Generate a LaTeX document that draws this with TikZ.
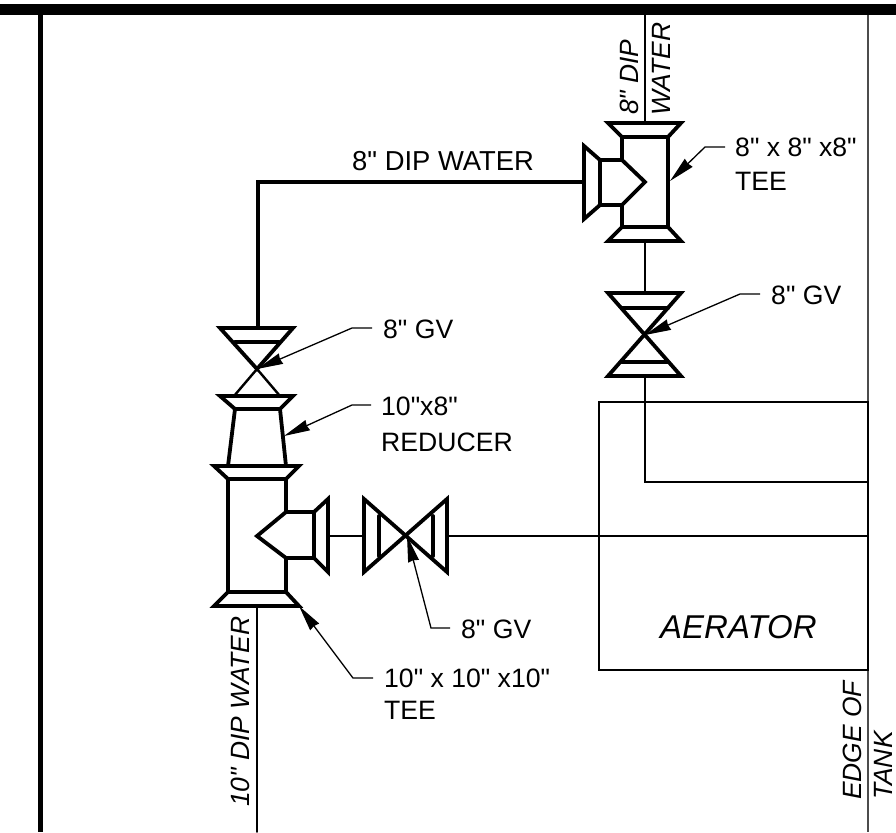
\documentclass[tikz,border=0pt]{standalone}
\usepackage{fontspec}
\newfontfamily\labelfont{Liberation Sans}
\usepackage{tkz-euclide}
\usetikzlibrary{arrows.meta}
\tikzset{
fitting/.style={line width=3.8pt, line join=miter, line cap=round},
thinPipe/.style={line width=1.6pt},
thickPipe/.style={line width=3.8pt},
leaderMe/.style={line width=1.3pt, {Stealth[length=26pt,width=11pt,inset=1pt]}-},
callout/.style={anchor=base west, inner sep=0pt, font=\labelfont\fontsize{26.6}{30}\selectfont},
sideText/.style={rotate=90, anchor=base west, inner sep=0pt, font=\labelfont\fontsize{26.4}{30}\selectfont\itshape}
}

\begin{document}
\begin{tikzpicture}[x=1pt,y=-1pt]
    \useasboundingbox (0,0) rectangle (896,832);
    % pipe ends and bends
    \tkzDefPoint(645,15){t_1}
    \tkzDefPoint(645,123){t_2}
    \tkzDefPoint(645,241){t_3}
    \tkzDefPoint(645,293){t_4}
    \tkzDefPoint(645,376){t_5}
    \tkzDefPoint(645,482){t_6}
    \tkzDefPoint(868,482){t_7}
    \tkzDefPoint(584,182){u_1}
    \tkzDefPoint(258,182){u_2}
    \tkzDefPoint(258,328){u_3}
    \tkzDefPoint(328,536){w_1}
    \tkzDefPoint(364,536){w_2}
    \tkzDefPoint(447,536){w_3}
    \tkzDefPoint(868,536){w_4}
    \tkzDefPoint(257,606){w_5}
    \tkzDefPoint(257,832){w_6}
    % border
    \fill (0,4) rectangle (896,15);
    \fill (38,15) rectangle (43,832);
    \draw[line width=1.8pt,black!70] (868,15) -- (868,832);
    % aerator
    \draw[thinPipe] (599,402) rectangle (868,670);
    % pipes
    \tkzDrawSegments[thinPipe](t_1,t_2 t_3,t_4 w_1,w_2 w_3,w_4 w_5,w_6)
    \draw[thinPipe] (t_5) -- (t_6) -- (t_7);
    \draw[thickPipe] (u_1) -- (u_2) -- (u_3);
    % upper tee
    \draw[fitting] (608,123) -- (681,123) -- (668,137) -- (622,137) -- cycle;
    \draw[fitting] (622,227) -- (668,227) -- (681,241) -- (608,241) -- cycle;
    \draw[fitting] (668,137) -- (668,227);
    \draw[fitting] (622,137) -- (622,160) -- (645,182) -- (622,205) -- (622,227);
    \draw[fitting] (622,160) -- (600,160);
    \draw[fitting] (622,205) -- (600,205);
    \draw[fitting] (584,146) -- (600,160) -- (600,205) -- (584,219) -- cycle;
    % upper valve
    \draw[fitting] (608,293) -- (681,293) -- (608,376) -- (681,376) -- cycle;
    \draw[fitting] (622,308) -- (668,308);
    \draw[fitting] (622,362) -- (668,362);
    % left valve
    \draw[fitting] (220,328) -- (293,328) -- (257,369) -- cycle;
    \draw[fitting] (235,342) -- (279,342);
    \draw[line width=2.4pt] (257,369) -- (234,396);
    \draw[line width=2.4pt] (257,369) -- (280,396);
    % reducer
    \draw[fitting] (220,396) -- (293,396) -- (280,409) -- (235,409) -- cycle;
    \draw[fitting] (235,409) -- (228,466);
    \draw[fitting] (280,409) -- (286,466);
    % lower tee
    \draw[fitting] (214,466) -- (299,466) -- (286,479) -- (228,479) -- cycle;
    \draw[fitting] (228,592) -- (286,592) -- (299,606) -- (214,606) -- cycle;
    \draw[fitting] (228,479) -- (228,592);
    \draw[fitting] (286,479) -- (286,512) -- (257,536) -- (286,558) -- (286,592);
    \draw[fitting] (286,512) -- (314,512);
    \draw[fitting] (286,558) -- (314,558);
    \draw[fitting] (328,499) -- (314,512) -- (314,558) -- (328,572) -- cycle;
    % right valve
    \draw[fitting] (364,499) -- (364,572) -- (447,499) -- (447,572) -- cycle;
    \draw[fitting] (379,516) -- (379,556);
    \draw[fitting] (433,516) -- (433,556);
    % labels
    \node[callout, font=\labelfont\fontsize{27.4}{30}\selectfont] (lbPipe) at (352,170) {8" DIP WATER};
    \node[callout] (lbTeeUp) at (735,157) {8" x 8" x8"};
    \node[callout] (lbTeeUpB) at (735,190) {TEE};
    \node[callout] (lbGvUp) at (771,304) {8" GV};
    \node[callout] (lbGvLeft) at (383,338) {8" GV};
    \node[callout] (lbRed) at (381,415) {10"x8"};
    \node[callout] (lbRedB) at (381,451) {REDUCER};
    \node[callout] (lbGvRight) at (461,638) {8" GV};
    \node[callout] (lbTeeLow) at (384,687) {10" x 10" x10"};
    \node[callout] (lbTeeLowB) at (384,719) {TEE};
    \node[anchor=base west, inner sep=0pt, font=\labelfont\fontsize{33}{36}\selectfont\itshape] (lbAer) at (660,638) {AERATOR};
    \node[sideText] (lbDipA) at (638,115) {8" DIP};
    \node[sideText] (lbDipB) at (670,116) {WATER};
    \node[sideText] (lbDipC) at (249,807) {10" DIP WATER};
    \node[sideText] (lbEdgeA) at (861,800) {EDGE OF};
    \node[sideText] (lbEdgeB) at (892,800) {TANK};
    % leaders
    \draw[leaderMe] (670,181) -- (705,147) -- (725,147);
    \draw[leaderMe] (645,335) -- (740,294) -- (760,294);
    \draw[leaderMe] (257,369) -- (352,328) -- (372,328);
    \draw[leaderMe] (284,436) -- (352,405) -- (371,405);
    \draw[leaderMe] (407,536) -- (431,628) -- (450,628);
    \draw[leaderMe] (299,606) -- (353,678) -- (373,678);
\end{tikzpicture}
\end{document}
